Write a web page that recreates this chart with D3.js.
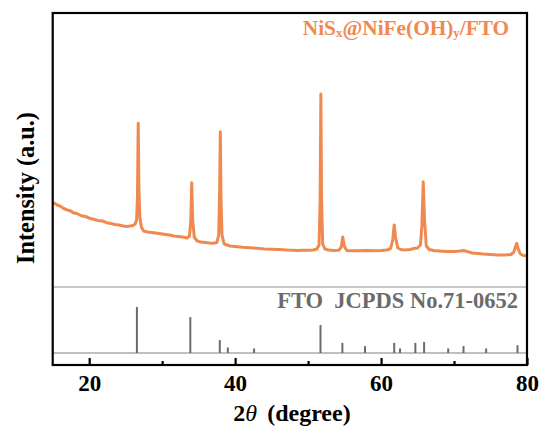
<!DOCTYPE html>
<html><head><meta charset="utf-8">
<script src="https://cdn.jsdelivr.net/npm/d3@7"></script>
<style>
html,body{margin:0;padding:0;background:#fff;}
svg{display:block;}
svg text{font-family:"Liberation Serif","DejaVu Serif",serif;font-weight:bold;}
</style></head>
<body>
<svg id="c" width="542" height="427"></svg>
<script>
// XRD pattern of NiSx@NiFe(OH)y/FTO
const twoTheta = [15.0,15.3,15.6,16.0,16.5,17.0,17.5,17.8,18.3,19.0,19.5,20.1,20.7,21.2,21.8,22.4,23.0,23.5,24.1,24.7,25.2,25.6,26.0,26.3,26.5,26.62,26.72,26.82,26.95,27.15,27.45,28.0,28.6,29.3,30.0,30.5,31.0,31.6,32.2,32.8,33.4,33.75,33.92,34.05,34.18,34.4,34.8,35.3,35.9,36.5,37.06,37.5,37.75,37.88,37.97,38.07,38.2,38.5,39.3,40.0,41.0,42.0,43.0,44.0,45.0,46.0,47.1,48.0,48.5,49.3,50.0,50.7,51.2,51.5,51.65,51.75,51.85,52.0,52.3,52.8,53.5,54.2,54.55,54.75,54.95,55.3,56.0,57.0,58.0,59.0,60.0,60.8,61.3,61.6,61.8,62.0,62.3,62.7,63.3,64.0,64.6,65.0,65.4,65.6,65.78,65.95,66.2,66.6,67.2,68.0,69.0,70.0,70.8,71.3,71.8,72.5,73.3,74.0,75.0,76.0,77.0,77.8,78.2,78.45,78.6,78.8,79.1,79.5,80.0];
const intensity = [843,835,820,810,785,770,760,743,735,710,705,687,675,665,660,643,635,625,620,610,605,610,615,630,670,920,1637,970,690,600,560,550,545,537,530,525,520,510,505,500,490,510,650,1043,670,500,460,450,445,440,437,445,520,970,1553,870,520,430,410,405,397,392,387,380,377,375,370,368,365,367,367,370,380,420,870,1930,870,430,380,370,365,367,400,500,410,365,363,363,365,363,365,370,385,470,620,490,390,375,370,375,387,390,420,620,1053,670,410,375,365,360,355,355,360,365,355,340,335,330,325,320,320,325,350,410,437,380,330,315,310];

// FTO reference pattern JCPDS No.71-0652
const refTheta = [26.54,33.86,37.9,39.0,42.6,51.7,54.7,57.8,61.8,62.6,64.7,65.9,69.2,71.3,74.4,78.7];
const refIntensity = [100,78,28,12,10,61,22,15,22,10,22,24,10,15,10,17];

const majorTicks = [20,40,60,80];
const minorTicks = [30,50,70];
const sampleLabel = ["NiS","x","@NiFe(OH)","y","/FTO"];
const refLabel = "FTO  JCPDS No.71-0652";

const svg = d3.select("#c");
const L = 52.7, R = 527, T = 13, B = 365, SEP = 287, BASE = 353;
const orange = "#f0894f";
const FONT = "Liberation Serif, DejaVu Serif, serif";

const x = d3.scaleLinear().domain([15, 80]).range([L, R]);
const y = d3.scaleLinear().domain([0, 2740]).range([SEP, T]);
const yRef = d3.scaleLinear().domain([0, 100]).range([BASE, BASE - 46]);

svg.append("defs").append("clipPath").attr("id","clip")
  .append("rect").attr("x",L).attr("y",T).attr("width",R-L).attr("height",SEP-T);

// curve
const pts = twoTheta.map((t,i)=>[t,intensity[i]]);
svg.append("path").datum(pts)
  .attr("clip-path","url(#clip)")
  .attr("fill","none").attr("stroke",orange).attr("stroke-width",3)
  .attr("stroke-linejoin","round")
  .attr("d", d3.line().x(d=>x(d[0])).y(d=>y(d[1])));

// separator and baseline
svg.append("line").attr("x1",L).attr("x2",R).attr("y1",SEP).attr("y2",SEP)
  .attr("stroke","#b4b4b4").attr("stroke-width",1.6);
svg.append("line").attr("x1",L).attr("x2",R).attr("y1",BASE).attr("y2",BASE)
  .attr("stroke","#aaaaaa").attr("stroke-width",1.4);

// reference sticks
svg.append("g").selectAll("line").data(refTheta.map((t,i)=>[t,refIntensity[i]]))
  .join("line")
  .attr("x1",d=>x(d[0])).attr("x2",d=>x(d[0]))
  .attr("y1",yRef(0)).attr("y2",d=>yRef(d[1]))
  .attr("stroke","#6b6b6b").attr("stroke-width",2);

// frame
svg.append("rect").attr("x",L).attr("y",T).attr("width",R-L).attr("height",B-T)
  .attr("fill","none").attr("stroke","#000").attr("stroke-width",2.2);

// x axis
const gx = svg.append("g").attr("transform",`translate(0,${B})`)
  .call(d3.axisBottom(x).tickValues(majorTicks).tickSize(-7).tickPadding(10).tickFormat(d3.format("d")));
gx.attr("font-family",FONT);
gx.select(".domain").remove();
gx.selectAll(".tick line").attr("stroke","#000").attr("stroke-width",2.2);
gx.selectAll("text").attr("font-size",23).attr("fill","#000");
const gm = svg.append("g").attr("transform",`translate(0,${B})`)
  .call(d3.axisBottom(x).tickValues(minorTicks).tickSize(-4).tickFormat(""));
gm.select(".domain").remove();
gm.selectAll(".tick line").attr("stroke","#000").attr("stroke-width",2.2);

// axis titles
const xt = svg.append("text").attr("x",292).attr("y",421).attr("text-anchor","middle")
  .attr("font-size",24).attr("fill","#000");
xt.append("tspan").text("2");
xt.append("tspan").attr("font-style","italic").attr("font-weight","normal").text("θ");
xt.append("tspan").attr("dx",10).text("(degree)");

svg.append("text").attr("transform","translate(34,188) rotate(-90)")
  .attr("text-anchor","middle").attr("font-size",24.3).attr("fill","#000")
  .text("Intensity (a.u.)");

// sample label
const st = svg.append("text").attr("x",406).attr("y",35).attr("text-anchor","middle")
  .attr("font-size",21.3).attr("fill",orange);
sampleLabel.forEach((s,i)=>{
  const sp = st.append("tspan").text(s);
  if (i===1||i===3) sp.attr("font-size",13).attr("dy",2);
  else if (i>0) sp.attr("dy",-2);
});

// reference label
svg.append("text").attr("x",518).attr("y",308).attr("text-anchor","end")
  .attr("font-size",22.5).attr("fill","#6b6b6b").style("white-space","pre")
  .text(refLabel);
</script>
</body></html>
